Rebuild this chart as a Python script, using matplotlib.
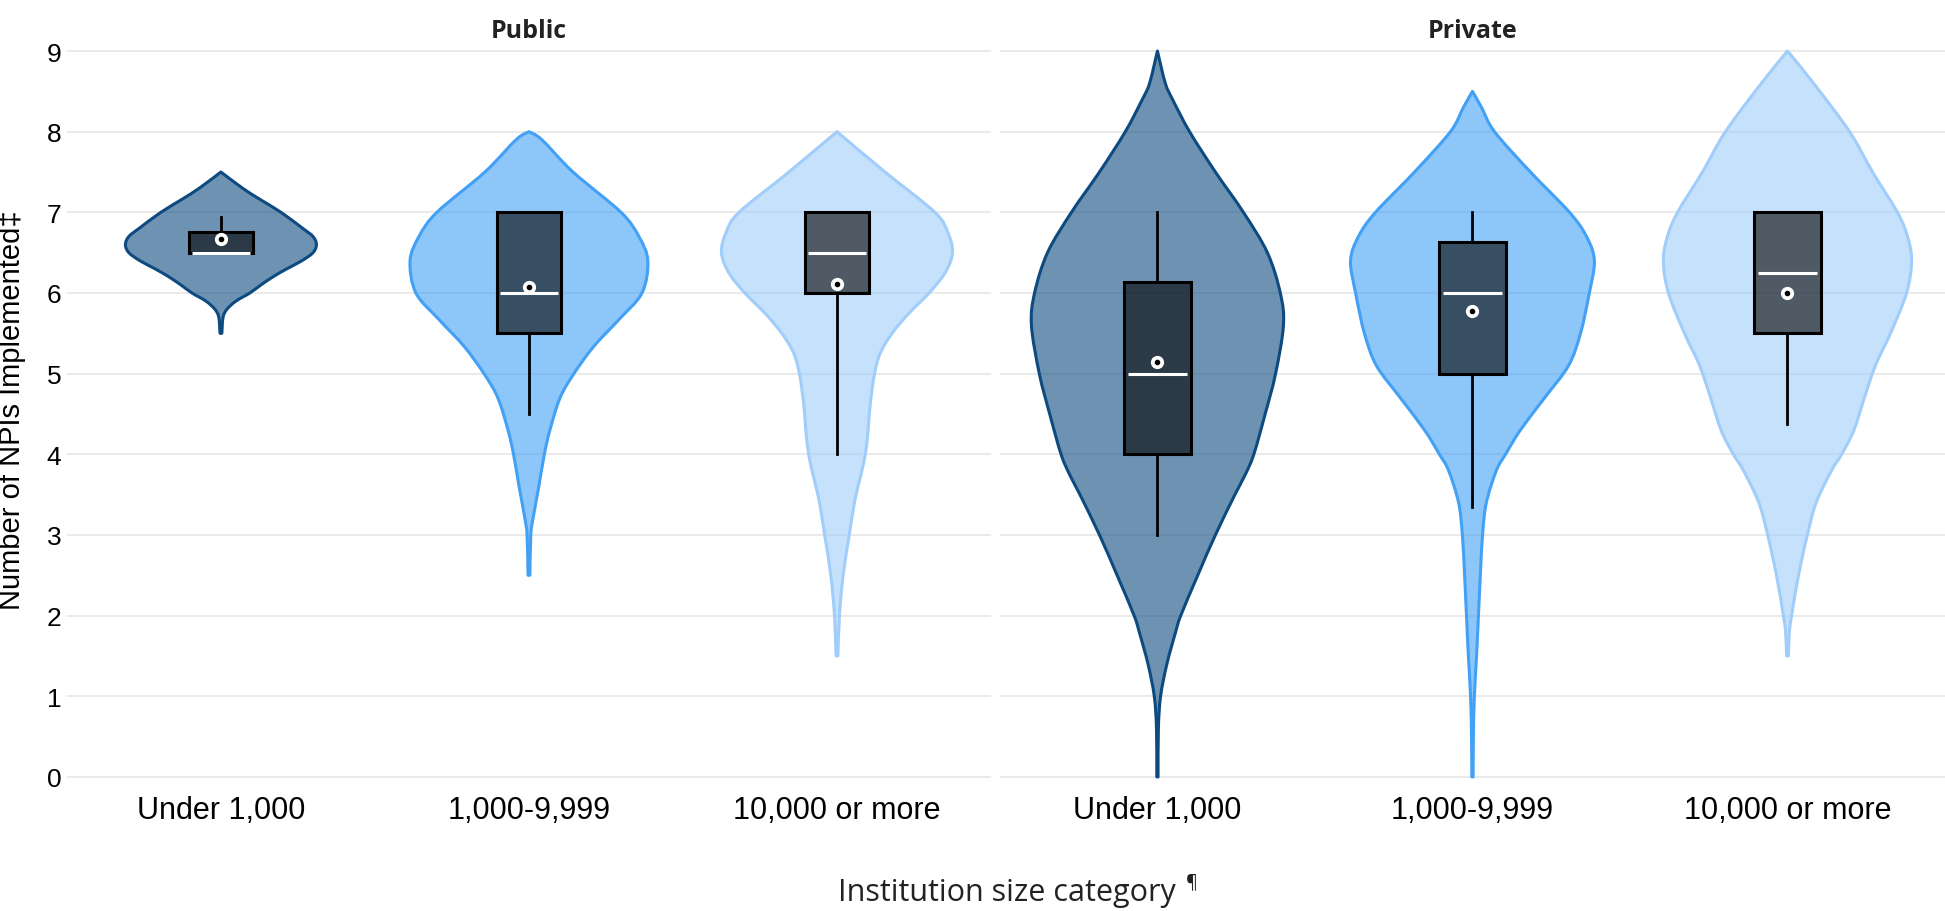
import numpy as np
import matplotlib
matplotlib.use("Agg")
import matplotlib.pyplot as plt
from matplotlib.patches import Rectangle, PathPatch
from matplotlib.path import Path
from matplotlib.colors import to_rgba

categories = ["Under 1,000", "1,000-9,999", "10,000 or more"]
panel_titles = ["Public", "Private"]
violin_colors = ["#0D4A80", "#42A0F5", "#A0CDFA"]

# box statistics, one value per size category
public_q1 = [6.5, 5.5, 6.0]
public_median = [6.5, 6.0, 6.5]
public_q3 = [6.75, 7.0, 7.0]
public_low = [6.5, 4.5, 4.0]
public_high = [6.94, 7.0, 7.0]
public_mean = [6.67, 6.07, 6.11]

private_q1 = [4.0, 5.0, 5.5]
private_median = [5.0, 6.0, 6.25]
private_q3 = [6.13, 6.63, 7.0]
private_low = [3.0, 3.35, 4.37]
private_high = [7.0, 7.0, 7.0]
private_mean = [5.15, 5.78, 6.0]

# violin outlines: level (NPIs) and half width (category units)
pub_small_y = [7.5, 7.3, 7.16, 7.0, 6.8, 6.7, 6.6, 6.5, 6.4, 6.3, 6.2, 6.1, 6.0, 5.9, 5.8, 5.7, 5.5]
pub_small_w = [0.0, 0.07, 0.127, 0.195, 0.266, 0.299, 0.31, 0.299, 0.263, 0.214, 0.169, 0.13, 0.094,
               0.049, 0.02, 0.007, 0.003]

pub_mid_y = [8.0, 7.9, 7.5, 7.0, 6.7, 6.4, 6.0, 5.67, 5.34, 5.0, 4.7, 4.3, 4.0, 3.6, 3.2, 3.0, 2.5]
pub_mid_w = [0.0, 0.042, 0.143, 0.299, 0.357, 0.386, 0.367, 0.292, 0.211, 0.146, 0.101, 0.068, 0.05,
             0.032, 0.013, 0.006, 0.003]

pub_large_y = [8.0, 7.5, 7.0, 6.75, 6.5, 6.25, 6.0, 5.75, 5.5, 5.25, 5.0, 4.75, 4.5, 4.25, 4.0, 3.75,
               3.5, 3.25, 3.0, 2.5, 2.0, 1.5]
pub_large_w = [0.0, 0.156, 0.318, 0.36, 0.375, 0.351, 0.299, 0.234, 0.179, 0.14, 0.122, 0.112, 0.105,
               0.1, 0.092, 0.078, 0.062, 0.05, 0.04, 0.02, 0.008, 0.003]

priv_small_y = [9.0, 8.6, 8.4, 8.0, 7.5, 7.0, 6.5, 6.0, 5.6, 5.0, 4.5, 4.0, 3.75, 3.5, 3.0, 2.5,
                2.0, 1.8, 1.4, 1.0, 0.6, 0.0]
priv_small_w = [0.0, 0.025, 0.048, 0.102, 0.184, 0.273, 0.349, 0.39, 0.4, 0.375, 0.342, 0.306, 0.279,
                0.246, 0.184, 0.128, 0.074, 0.058, 0.03, 0.01, 0.003, 0.002]

priv_mid_y = [8.5, 8.3, 8.0, 7.5, 7.0, 6.7, 6.4, 6.0, 5.5, 5.1, 4.7, 4.3, 4.0, 3.8, 3.4, 3.0, 2.5,
              2.0, 1.5, 1.0, 0.5, 0.0]
priv_mid_w = [0.0, 0.029, 0.07, 0.184, 0.308, 0.362, 0.387, 0.371, 0.343, 0.305, 0.229, 0.152, 0.105,
              0.076, 0.044, 0.032, 0.025, 0.019, 0.013, 0.006, 0.003, 0.002]

priv_large_y = [9.0, 8.6, 8.0, 7.5, 7.0, 6.7, 6.4, 6.0, 5.5, 5.1, 4.7, 4.3, 4.0, 3.8, 3.4, 3.0, 2.5,
                2.0, 1.8, 1.5]
priv_large_w = [0.0, 0.083, 0.197, 0.27, 0.349, 0.381, 0.394, 0.378, 0.327, 0.279, 0.244, 0.211,
                0.172, 0.14, 0.091, 0.063, 0.035, 0.013, 0.006, 0.003]

panels = [
    (panel_titles[0], [(pub_small_y, pub_small_w), (pub_mid_y, pub_mid_w), (pub_large_y, pub_large_w)],
     public_q1, public_median, public_q3, public_low, public_high, public_mean),
    (panel_titles[1], [(priv_small_y, priv_small_w), (priv_mid_y, priv_mid_w), (priv_large_y, priv_large_w)],
     private_q1, private_median, private_q3, private_low, private_high, private_mean),
]

tick_font = ["Liberation Sans", "DejaVu Sans"]
title_font = ["Open Sans", "DejaVu Sans"]


def smooth_side(pts):
    # cubic bezier segments through the read points (catmull-rom handles)
    n = len(pts)
    verts, codes = [], []
    for k in range(n - 1):
        p0 = pts[k - 1] if k > 0 else pts[k]
        p1, p2 = pts[k], pts[k + 1]
        p3 = pts[k + 2] if k + 2 < n else pts[k + 1]
        verts += [p1 + (p2 - p0) / 6, p2 - (p3 - p1) / 6, p2]
        codes += [Path.CURVE4] * 3
    return verts, codes


def violin_path(x0, ys, ws):
    ys = np.asarray(ys, float)
    ws = np.asarray(ws, float)
    left = np.column_stack([x0 - ws, ys])
    right = np.column_stack([x0 + ws, ys])[::-1]
    v1, c1 = smooth_side(left)
    v2, c2 = smooth_side(right)
    verts = [left[0]] + v1 + [right[0]] + v2 + [left[0]]
    codes = [Path.MOVETO] + c1 + [Path.LINETO] + c2 + [Path.CLOSEPOLY]
    return Path(verts, codes)


fig = plt.figure(figsize=(19.45, 9.12), dpi=100)
ax_left = fig.add_axes([0.0344, 0.1382, 0.4751, 0.8136])
ax_right = fig.add_axes([0.5141, 0.1382, 0.4859, 0.8136])

box_w = 0.21
for ax, (title, outlines, q1, med, q3, lo, hi, mean) in zip([ax_left, ax_right], panels):
    for i, (ys, ws) in enumerate(outlines):
        col = violin_colors[i]
        ax.add_patch(PathPatch(violin_path(i, ys, ws), facecolor=to_rgba(col, 0.6), edgecolor=col,
                               lw=2.2, joinstyle="round", zorder=2))

        # whiskers, box, median, mean
        ax.plot([i, i], [lo[i], q1[i]], color="black", lw=2, zorder=4)
        ax.plot([i, i], [q3[i], hi[i]], color="black", lw=2, zorder=4)
        ax.add_patch(Rectangle((i - box_w / 2, q1[i]), box_w, q3[i] - q1[i],
                               facecolor=(0, 0, 0, 0.6), edgecolor="black", lw=2.2, zorder=5))
        ax.plot([i - box_w / 2 + 0.012, i + box_w / 2 - 0.012], [med[i], med[i]],
                color="white", lw=2.2, zorder=6, solid_capstyle="butt")
        ax.plot(i, mean[i], "o", ms=8.5, color="white", zorder=7)
        ax.plot(i, mean[i], "o", ms=3, color="black", zorder=8)

    ax.set_xlim(-0.5, 2.5)
    ax.set_ylim(-0.1, 9.1)
    ax.set_xticks(range(len(categories)))
    ax.set_xticklabels(categories, fontsize=22, family=tick_font)
    ax.set_yticks(range(10))
    ax.set_yticklabels([str(v) for v in range(10)], fontsize=19, family=tick_font)
    ax.tick_params(length=0, axis="x", pad=7)
    ax.tick_params(length=0, axis="y", pad=4)
    for s in ax.spines.values():
        s.set_visible(False)
    ax.yaxis.grid(True, color="#e8e8e8", lw=1.3)
    ax.set_axisbelow(True)
    ax.set_title(title, fontsize=18, fontweight="bold", family=title_font, color="#222222", pad=0)

ax_right.tick_params(axis="y", labelleft=False)

# panel titles sit at the very top
for ax in (ax_left, ax_right):
    ax.title.set_y(1 + (44 - 13) / 742)
    ax.title.set_va("center")

fig.text(0.0062, 1 - 410 / 912, "Number of NPIs Implemented\u2021", rotation=90, ha="center", va="center",
         fontsize=21, family=tick_font)

xt = fig.text(1007 / 1945, 1 - 893 / 912, "Institution size category", ha="center", va="center",
              fontsize=22, family=title_font, color="#222222")
fig.canvas.draw()
bb = xt.get_window_extent()
fig.text((bb.x1 + 10) / 1945, 1 - 882 / 912, "\u00b6", ha="left", va="center", fontsize=13,
         family=title_font, color="#222222")

fig.savefig("out.png", dpi=100)
